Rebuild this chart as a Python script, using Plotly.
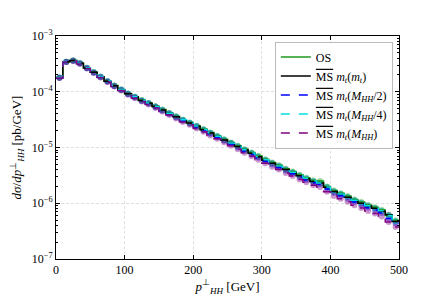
import plotly.graph_objects as go

# bin edges (GeV)
bin_edges = list(range(0, 510, 10))
bin_centers = [e + 5 for e in bin_edges[:-1]]

os_vals = [1.80e-4, 3.47e-4, 3.63e-4, 3.24e-4, 2.69e-4, 2.24e-4, 1.86e-4, 1.55e-4, 1.29e-4, 1.10e-4,
           9.33e-5, 8.13e-5, 7.08e-5, 6.31e-5, 5.50e-5, 4.79e-5, 4.17e-5, 3.63e-5, 3.16e-5, 2.82e-5,
           2.45e-5, 2.14e-5, 1.86e-5, 1.62e-5, 1.41e-5, 1.23e-5, 1.07e-5, 9.33e-6, 8.13e-6, 7.08e-6,
           6.17e-6, 5.37e-6, 4.79e-6, 4.17e-6, 3.72e-6, 3.24e-6, 2.88e-6, 2.57e-6, 2.51e-6, 2.00e-6,
           1.70e-6, 1.51e-6, 1.35e-6, 1.17e-6, 1.05e-6, 9.33e-7, 8.51e-7, 7.59e-7, 6.03e-7, 4.90e-7]

ms_mt = [1.79e-4, 3.46e-4, 3.62e-4, 3.23e-4, 2.68e-4, 2.23e-4, 1.85e-4, 1.54e-4, 1.28e-4, 1.09e-4,
         9.22e-5, 8.03e-5, 6.99e-5, 6.22e-5, 5.42e-5, 4.71e-5, 4.10e-5, 3.56e-5, 3.10e-5, 2.76e-5,
         2.40e-5, 2.09e-5, 1.82e-5, 1.58e-5, 1.37e-5, 1.20e-5, 1.04e-5, 9.05e-6, 7.87e-6, 6.85e-6,
         5.93e-6, 5.20e-6, 4.60e-6, 4.02e-6, 3.57e-6, 3.12e-6, 2.76e-6, 2.46e-6, 2.30e-6, 1.93e-6,
         1.62e-6, 1.45e-6, 1.28e-6, 1.12e-6, 1.00e-6, 8.90e-7, 8.10e-7, 7.20e-7, 6.20e-7, 4.70e-7]

ms_mhh2 = [1.78e-4, 3.43e-4, 3.59e-4, 3.20e-4, 2.65e-4, 2.20e-4, 1.82e-4, 1.51e-4, 1.26e-4, 1.07e-4,
           9.05e-5, 7.86e-5, 6.83e-5, 6.07e-5, 5.28e-5, 4.58e-5, 3.98e-5, 3.46e-5, 3.01e-5, 2.68e-5,
           2.32e-5, 2.02e-5, 1.75e-5, 1.52e-5, 1.32e-5, 1.15e-5, 9.95e-6, 8.66e-6, 7.52e-6, 6.53e-6,
           5.68e-6, 4.93e-6, 4.39e-6, 3.81e-6, 3.39e-6, 2.95e-6, 2.61e-6, 2.33e-6, 2.20e-6, 1.80e-6,
           1.53e-6, 1.36e-6, 1.21e-6, 1.05e-6, 9.35e-7, 8.30e-7, 7.55e-7, 6.70e-7, 5.35e-7, 4.35e-7]

ms_mhh4 = [1.80e-4, 3.48e-4, 3.64e-4, 3.25e-4, 2.70e-4, 2.25e-4, 1.87e-4, 1.56e-4, 1.30e-4, 1.10e-4,
           9.30e-5, 8.10e-5, 7.05e-5, 6.26e-5, 5.46e-5, 4.75e-5, 4.13e-5, 3.59e-5, 3.13e-5, 2.79e-5,
           2.42e-5, 2.11e-5, 1.83e-5, 1.59e-5, 1.39e-5, 1.21e-5, 1.05e-5, 9.10e-6, 7.95e-6, 6.90e-6,
           6.00e-6, 5.22e-6, 4.65e-6, 4.05e-6, 3.60e-6, 3.14e-6, 2.80e-6, 2.50e-6, 2.30e-6, 1.95e-6,
           1.65e-6, 1.46e-6, 1.30e-6, 1.13e-6, 1.02e-6, 9.00e-7, 8.20e-7, 7.30e-7, 6.00e-7, 4.80e-7]

ms_mhh = [1.76e-4, 3.40e-4, 3.55e-4, 3.16e-4, 2.62e-4, 2.17e-4, 1.80e-4, 1.49e-4, 1.24e-4, 1.05e-4,
          8.86e-5, 7.68e-5, 6.66e-5, 5.90e-5, 5.12e-5, 4.43e-5, 3.84e-5, 3.32e-5, 2.88e-5, 2.55e-5,
          2.20e-5, 1.91e-5, 1.65e-5, 1.43e-5, 1.24e-5, 1.07e-5, 9.26e-6, 8.03e-6, 6.96e-6, 6.02e-6,
          5.22e-6, 4.52e-6, 4.02e-6, 3.48e-6, 3.09e-6, 2.68e-6, 2.37e-6, 2.10e-6, 1.96e-6, 1.60e-6,
          1.35e-6, 1.20e-6, 1.06e-6, 9.20e-7, 8.20e-7, 7.25e-7, 6.55e-7, 5.80e-7, 4.60e-7, 3.75e-7]

y_tick_vals = [1e-7, 1e-6, 1e-5, 1e-4, 1e-3]
y_tick_text = ["10<sup>−7</sup>", "10<sup>−6</sup>", "10<sup>−5</sup>", "10<sup>−4</sup>", "10<sup>−3</sup>"]
x_tick_vals = [0, 100, 200, 300, 400, 500]

MS = '<span style="text-decoration:overline">MS</span>'
series = [
    ("OS", os_vals, "#1f9a1f", "solid"),
    (MS + " <i>m<sub>t</sub></i>(<i>m<sub>t</sub></i>)", ms_mt, "black", "solid"),
    (MS + " <i>m<sub>t</sub></i>(<i>M<sub>HH</sub></i>/2)", ms_mhh2, "#0000ff", "dash"),
    (MS + " <i>m<sub>t</sub></i>(<i>M<sub>HH</sub></i>/4)", ms_mhh4, "#00e0e0", "dash"),
    (MS + " <i>m<sub>t</sub></i>(<i>M<sub>HH</sub></i>)", ms_mhh, "#800080", "dash"),
]

fig = go.Figure()
# uncertainty blobs
for name, vals, col, dash in series:
    fig.add_trace(go.Scatter(x=bin_centers, y=vals, mode="markers",
                             marker=dict(color=col, size=6, opacity=0.4, line=dict(width=0)),
                             showlegend=False, hoverinfo="skip"))
# step lines
for name, vals, col, dash in series:
    fig.add_trace(go.Scatter(x=bin_edges, y=vals + [vals[-1]], mode="lines", name=name,
                             line=dict(color=col, width=1.5, dash=dash, shape="hv")))

font = "Liberation Serif"
fig.update_layout(
    width=436, height=297,
    margin=dict(l=48, r=45, t=28, b=46, autoexpand=False),
    paper_bgcolor="white", plot_bgcolor="white",
    font=dict(family=font, size=12, color="black"),
    showlegend=True,
    legend=dict(x=0.982, y=0.975, xanchor="right", yanchor="top",
                bgcolor="rgba(255,255,255,0.85)", bordercolor="#bbbbbb", borderwidth=1,
                font=dict(family=font, size=12), tracegroupgap=0, itemwidth=30),
)
fig.update_xaxes(
    range=[0, 500], tickvals=x_tick_vals, automargin=False,
    ticks="inside", ticklen=4, tickcolor="black", showline=True, linecolor="black", linewidth=1,
    mirror="ticks", showgrid=True, gridcolor="#e0e0e0", griddash="3px,2px", gridwidth=1,
    zeroline=False, tickfont=dict(size=12),
    title=dict(text="<i>p</i><sup>⊥</sup><sub><i>HH</i></sub> [GeV]", standoff=4, font=dict(size=13)),
)
fig.update_yaxes(
    type="log", range=[-7, -3], tickvals=y_tick_vals, ticktext=y_tick_text, automargin=False,
    ticks="inside", ticklen=4, tickcolor="black", showline=True, linecolor="black", linewidth=1,
    mirror="ticks", showgrid=True, gridcolor="#e0e0e0", griddash="3px,2px", gridwidth=1,
    zeroline=False, tickfont=dict(size=12),
    minor=dict(ticks="inside", ticklen=2, tickcolor="black", showgrid=False,
               tickvals=[m * 10 ** e for e in range(-7, -3) for m in range(2, 10)]),
    title=dict(text="<i>dσ</i>/<i>dp</i><sup>⊥</sup><sub><i>HH</i></sub> [pb/GeV]", standoff=8, font=dict(size=13)),
)

fig.write_html("out.html")
